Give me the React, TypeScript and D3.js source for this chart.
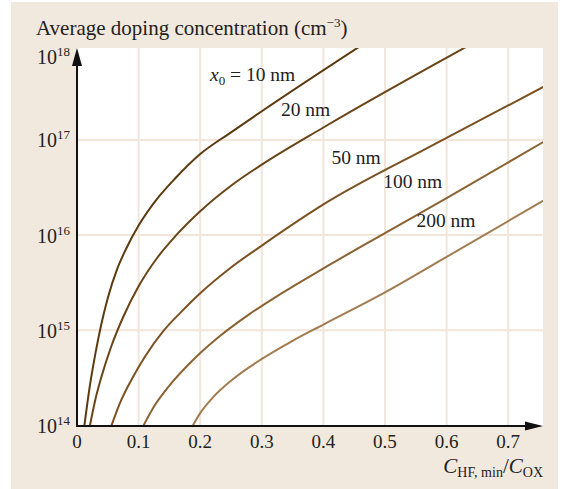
import React from 'react';
import * as d3 from 'd3';

// oxide thickness of each curve
const seriesNames = ['10', '20', '50', '100', '200'];

// C_HF,min / C_OX values
const x10 = [0.012, 0.02, 0.03, 0.04, 0.05, 0.065, 0.08, 0.1, 0.13, 0.16, 0.2, 0.25, 0.3, 0.458];
const x20 = [0.021, 0.03, 0.04, 0.055, 0.075, 0.1, 0.13, 0.16, 0.2, 0.25, 0.3, 0.4, 0.632];
const x50 = [0.056, 0.07, 0.09, 0.11, 0.14, 0.17, 0.2, 0.25, 0.3, 0.4, 0.573, 0.757];
const x100 = [0.108, 0.125, 0.15, 0.19, 0.23, 0.28, 0.33, 0.4, 0.5, 0.6, 0.757];
const x200 = [0.188, 0.2, 0.22, 0.25, 0.3, 0.35, 0.4, 0.5, 0.6, 0.757];

// average doping concentration (cm^-3)
const n10 = [1e14, 2.4e14, 5.75e14, 1.2e15, 2.19e15, 4.37e15, 7.24e15, 1.26e16, 2.4e16, 3.98e16, 7.1e16, 1.2e17, 2.0e17, 9.5e17];
const n20 = [1e14, 1.9e14, 3.3e14, 6.6e14, 1.38e15, 2.9e15, 5.75e15, 9.8e15, 1.78e16, 3.3e16, 5.5e16, 1.35e17, 9.5e17];
const n50 = [1e14, 1.74e14, 3.16e14, 5.25e14, 9.8e14, 1.58e15, 2.45e15, 4.57e15, 7.76e15, 2.1e16, 8.5e16, 3.6e17];
const n100 = [1e14, 1.58e14, 2.63e14, 5.0e14, 8.5e14, 1.48e15, 2.4e15, 4.47e15, 1.05e16, 2.45e16, 9.5e16];
const n200 = [1e14, 1.35e14, 1.95e14, 2.95e14, 5.0e14, 7.76e14, 1.15e15, 2.5e15, 5.9e15, 2.3e16];

const xTicks = [0, 0.1, 0.2, 0.3, 0.4, 0.5, 0.6, 0.7];
const yTickExp = [14, 15, 16, 17, 18];

// where each curve label sits (data coordinates of the text start)
const labelX = [0.216, 0.331, 0.413, 0.497, 0.551];
const labelN = [4.2e17, 1.8e17, 5.6e16, 3.1e16, 1.23e16];

const colors = ['#5c3a10', '#6a4416', '#7b5122', '#8b6232', '#a27c50'];
const font = '"Liberation Serif", "Times New Roman", serif';

export default function App() {
  const width = 568;
  const height = 489;
  const left = 77, right = 543, top = 48, bottom = 426;

  const x = d3.scaleLinear().domain([0, 0.757]).range([left, 543.3]);
  const y = d3.scaleLog().domain([1e14, 1e18]).range([425.5, 44.7]);

  const xs = [x10, x20, x50, x100, x200];
  const ns = [n10, n20, n50, n100, n200];

  const line = d3.line<[number, number]>()
    .x(d => x(d[0]))
    .y(d => y(d[1]))
    .curve(d3.curveMonotoneX);

  return (
    <svg width={width} height={height} style={{ position: 'absolute', left: 0, top: 0 }}
      fontFamily={font}>
      <rect x={11} y={2} width={547} height={height - 2} fill="#f2e9de" />
      <rect x={left} y={top} width={right - left} height={bottom - top} fill="#fff" />

      <defs>
        <clipPath id="plot">
          <rect x={left} y={top} width={right - left} height={bottom - top} />
        </clipPath>
      </defs>

      {/* grid */}
      {xTicks.slice(1).map(t => (
        <line key={'gx' + t} x1={x(t)} x2={x(t)} y1={top} y2={bottom} stroke="#f1e6d9" strokeWidth={2} />
      ))}
      {yTickExp.slice(1, 4).map(e => (
        <line key={'gy' + e} x1={left} x2={right} y1={y(10 ** e)} y2={y(10 ** e)} stroke="#f1e6d9" strokeWidth={2} />
      ))}

      {/* curves */}
      <g clipPath="url(#plot)">
        {seriesNames.map((s, i) => (
          <path key={s} d={line(xs[i].map((v, j) => [v, ns[i][j]]) as [number, number][]) || ''}
            fill="none" stroke={colors[i]} strokeWidth={2} />
        ))}
      </g>

      {/* axes */}
      <line x1={left} x2={left} y1={bottom + 1} y2={62} stroke="#111" strokeWidth={2} />
      <polygon points={`${left},${top} ${left - 5},${66} ${left + 5},${66}`} fill="#111" />
      <line x1={left - 1} x2={528} y1={bottom} y2={bottom} stroke="#111" strokeWidth={2} />
      <polygon points={`${right},${bottom} ${525},${bottom - 4.5} ${525},${bottom + 4.5}`} fill="#111" />

      {/* tick labels */}
      {xTicks.map(t => (
        <text key={'tx' + t} x={x(t)} y={448} textAnchor="middle" fontSize={19} fill="#222">
          {t === 0 ? '0' : d3.format('.1f')(t)}
        </text>
      ))}
      {yTickExp.map(e => (
        <text key={'ty' + e} x={70} y={e === 18 ? 64 : y(10 ** e) + 7.5} textAnchor="end" fontSize={20} fill="#222">
          10<tspan fontSize={13} dy={-8}>{e}</tspan>
        </text>
      ))}

      {/* curve labels */}
      {seriesNames.map((s, i) => (
        <text key={'l' + s} x={x(labelX[i])} y={y(labelN[i])} fontSize={19.5} fill="#222">
          {i === 0 ? (
            <>
              <tspan fontStyle="italic">x</tspan>
              <tspan fontSize={13} dy={4}>0</tspan>
              <tspan dy={-4}> = 10 nm</tspan>
            </>
          ) : (
            `${s} nm`
          )}
        </text>
      ))}

      {/* titles */}
      <text x={36} y={35} fontSize={21} fill="#222">
        Average doping concentration (cm<tspan fontSize={13} dy={-8}>−3</tspan><tspan dy={8}>)</tspan>
      </text>
      <text x={543} y={473} textAnchor="end" fontSize={21} fill="#222">
        <tspan fontStyle="italic">C</tspan>
        <tspan fontSize={14} dy={4}>HF, min</tspan>
        <tspan dy={-4}>/</tspan>
        <tspan fontStyle="italic">C</tspan>
        <tspan fontSize={14} dy={4}>OX</tspan>
      </text>
    </svg>
  );
}
